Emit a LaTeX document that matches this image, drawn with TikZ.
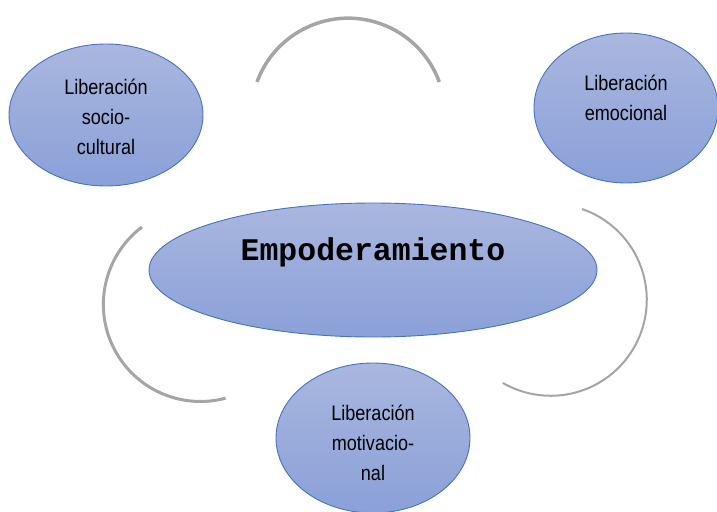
\documentclass[tikz,border=0pt]{standalone}
\usepackage{fontspec}
\setmainfont{Liberation Sans}[FakeStretch=0.86]
\newfontfamily\monofont{Liberation Mono}
\usetikzlibrary{shapes.geometric,positioning}

\definecolor{ringgray}{HTML}{A5A5A5}
\definecolor{bubbleline}{HTML}{4472C4}
\definecolor{bubbletop}{HTML}{AAB7DF}
\definecolor{bubblebottom}{HTML}{8AA0D8}

\begin{document}
\begin{tikzpicture}[x=1pt, y=-1pt, node distance=168pt,
    bubble/.style={ellipse, draw=bubbleline, line width=0.9pt, top color=bubbletop,
        bottom color=bubblebottom, inner sep=0pt, align=center,
        font=\fontsize{21}{30}\selectfont},
    ring/.style={draw=ringgray, line width=3pt}]
    \useasboundingbox (0,0) rectangle (717,511);

    % Nodes {emp, socio, emoc, motiv}
    \node [bubble, minimum width=448pt, minimum height=134pt, text depth=42pt,
           font=\monofont\bfseries\fontsize{31.5}{36}\selectfont]
                                        (emp)   at (373,270)    {Empoderamiento};
    \node [bubble, minimum width=194pt, minimum height=142pt, text height=79pt]
                                        (socio) at (106,115)    {Liberación\\socio-\\cultural};
    \node [bubble, minimum width=184pt, minimum height=150pt, text depth=21pt]
                                        (emoc)  at (626,108)    {Liberación\\emocional};
    \node [bubble, minimum width=194pt, minimum height=150pt, text height=86pt]
                                        (motiv) [below of=emp]  {Liberación\\motivacio-\\nal};

    % Rings
    \draw [ring, line width=3.5pt]  (257,82)  arc [start angle=160, end angle=20,   radius=97pt];
    \draw [ring, line width=2pt]    (582,209) arc [start angle=71,  end angle=-120, radius=96pt];
    \draw [ring]                    (142,227) arc [start angle=127, end angle=285,  radius=97pt];

\end{tikzpicture}
\end{document}
